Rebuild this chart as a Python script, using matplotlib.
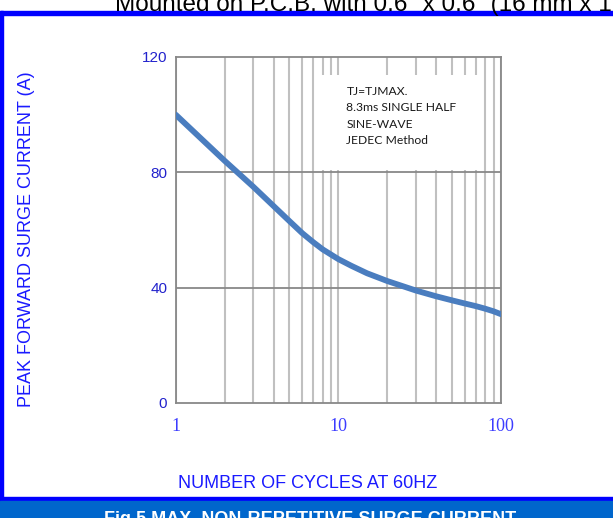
import matplotlib
matplotlib.use("Agg")
import matplotlib.pyplot as plt
from matplotlib.patches import Rectangle
from matplotlib.ticker import FixedLocator, NullFormatter, LogLocator

# ---- data ----
cycles = [1, 2, 3, 4, 5, 6, 7, 8, 9, 10, 12, 15, 20, 30, 40, 50, 60, 70, 80, 90, 100]
surge_current = [100, 84, 75, 68.3, 63.1, 58.9, 55.8, 53.3, 51.5, 49.9, 47.6, 45, 42.3,
                 39, 37, 35.6, 34.5, 33.6, 32.7, 31.8, 30.8]
x_ticks = [1, 10, 100]
x_tick_labels = ["1", "10", "100"]
y_ticks = [0, 40, 80, 120]
y_tick_labels = ["0", "40", "80", "120"]
note_lines = ["TJ=TJMAX.", "8.3ms SINGLE HALF", "SINE-WAVE", "JEDEC Method"]
top_text = 'Mounted on P.C.B. with 0.6" x 0.6" (16 mm x 16 mm) copper pad areas'
x_label = "NUMBER OF CYCLES AT 60HZ"
y_label = "PEAK FORWARD SURGE CURRENT (A)"
caption = "Fig.5 MAX. NON-REPETITIVE SURGE CURRENT"

W, H = 613, 518
fig = plt.figure(figsize=(W / 100, H / 100), dpi=100)

def fx(px):
    return px / W

def fy(py):
    return 1 - py / H

# frame
blue = "#0000ff"
fig.patches.append(Rectangle((fx(0), fy(14.5)), 1, 3.5 / H, transform=fig.transFigure,
                             color=blue, zorder=0))
fig.patches.append(Rectangle((fx(0), fy(501)), 3 / W, (501 - 11) / H, transform=fig.transFigure,
                             color=blue, zorder=0))
fig.patches.append(Rectangle((fx(0), fy(501)), 1, 4 / H, transform=fig.transFigure,
                             color=blue, zorder=0))
fig.patches.append(Rectangle((fx(0), fy(518)), 1, 17 / H, transform=fig.transFigure,
                             color="#0066cc", zorder=0))

# axes
left, right, top, bottom = 175.7, 501, 57, 403
ax = fig.add_axes([fx(left), fy(bottom), (right - left) / W, (bottom - top) / H])
ax.set_xscale("log")
ax.set_xlim(1, 100)
ax.set_ylim(0, 120)

spine_c = "#888888"
for s in ax.spines.values():
    s.set_color(spine_c)
    s.set_linewidth(1.3)

ax.xaxis.set_major_locator(FixedLocator(x_ticks))
ax.xaxis.set_minor_locator(LogLocator(base=10, subs=range(2, 10)))
ax.xaxis.set_minor_formatter(NullFormatter())
ax.set_xticks(x_ticks)
ax.set_xticklabels(x_tick_labels)
ax.set_yticks(y_ticks)
ax.set_yticklabels(y_tick_labels)
ax.tick_params(axis="both", which="both", length=0)
ax.tick_params(axis="x", pad=11, labelsize=13, labelcolor="#3c3cff")
ax.tick_params(axis="y", pad=6, labelsize=11, labelcolor="#2222cc")
for t in ax.get_xticklabels():
    t.set_fontfamily("Liberation Serif")
for t in ax.get_yticklabels():
    t.set_fontfamily("Liberation Sans")

ax.set_axisbelow(True)
ax.grid(True, axis="x", which="both", color="#c0c0c0", linewidth=1.5)
for yv in y_ticks[1:-1]:
    ax.axhline(yv, color=spine_c, linewidth=1.3, zorder=1.6)

# note box
ax.add_patch(Rectangle((0.44, 0.673), 0.497, 0.275, transform=ax.transAxes,
                       facecolor="white", edgecolor="none", zorder=1))
ty = [91.7, 107.7, 124, 140]
for line, yy in zip(note_lines, ty):
    fig.text(fx(346.5), fy(yy), line, fontsize=8.7, family="Lato", color="#1a1a1a",
             va="center", ha="left")

ax.plot(cycles, surge_current, color="#4a7dbf", linewidth=4.2, solid_capstyle="round",
        solid_joinstyle="round", zorder=3)

# texts
fig.text(fx(115), fy(10.5), top_text, fontsize=17.5, family="Liberation Sans", color="black",
         ha="left", va="baseline")
fig.text(fx(308), fy(483), x_label, fontsize=13, family="Liberation Sans", color="#1a1aff",
         ha="center", va="center")
fig.text(fx(27), fy(239), y_label, fontsize=13, family="Liberation Sans", color="#1a1aff",
         ha="center", va="center", rotation=90)
fig.text(fx(310), fy(511.5), caption, fontsize=13, family="Liberation Sans", weight="bold",
         color="white", ha="center", va="top")

fig.savefig("out.png", dpi=100)
